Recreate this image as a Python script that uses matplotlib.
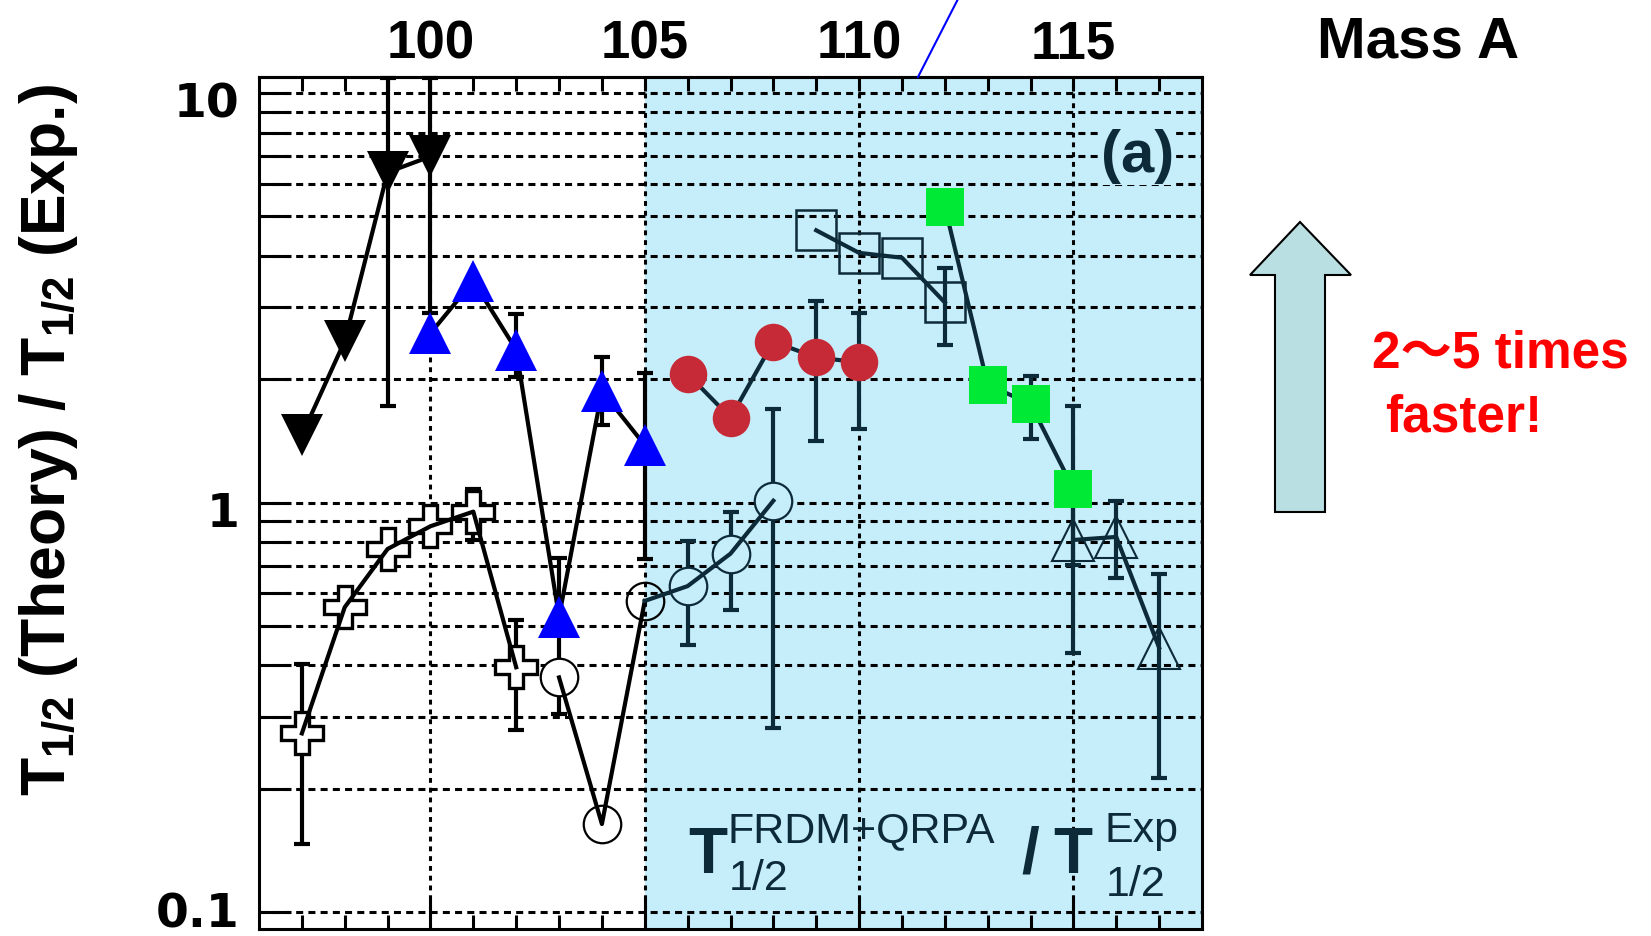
import numpy as np
import matplotlib
matplotlib.use("Agg")
import matplotlib.pyplot as plt
from matplotlib.patches import Polygon
from matplotlib.lines import Line2D
from matplotlib.ticker import FixedLocator, NullFormatter
import matplotlib.transforms as mtransforms

nan = np.nan

# ---- values: mass number A vs T1/2(theory)/T1/2(exp) ----
# black filled down-triangles
dn_x = [97, 98, 99, 100]
dn_y = [1.46, 2.48, 6.4, 7.0]
dn_lo = [nan, nan, 1.72, 2.9]
dn_hi = [nan, nan, 10.9, 10.9]

# blue filled up-triangles
up_x = [100, 101, 102, 103, 104, 105]
up_y = [2.59, 3.47, 2.36, 0.526, 1.87, 1.38]
up_lo = [nan, nan, 2.02, 0.305, 1.55, 0.726]
up_hi = [nan, nan, 2.88, 0.733, 2.26, 2.07]

# open crosses
cr_x = [97, 98, 99, 100, 101, 102]
cr_y = [0.273, 0.555, 0.77, 0.875, 0.95, 0.396]
cr_lo = [0.147, nan, nan, nan, 0.81, 0.278]
cr_hi = [0.404, nan, nan, nan, 1.08, 0.516]

# open circles
oc_x = [103, 104, 105, 106, 107, 108]
oc_y = [0.374, 0.164, 0.575, 0.625, 0.75, 1.01]
oc_lo = [nan, nan, nan, 0.449, 0.546, 0.281]
oc_hi = [nan, nan, nan, 0.805, 0.95, 1.69]

# red filled circles
rc_x = [106, 107, 108, 109, 110]
rc_y = [2.06, 1.61, 2.47, 2.26, 2.2]
rc_lo = [nan, nan, nan, 1.41, 1.51]
rc_hi = [nan, nan, nan, 3.1, 2.9]

# open squares
os_x = [109, 110, 111, 112]
os_y = [4.62, 4.07, 3.96, 3.08]
os_lo = [nan, nan, nan, 2.43]
os_hi = [nan, nan, nan, 3.74]

# green filled squares
gs_x = [112, 113, 114, 115]
gs_y = [5.28, 1.94, 1.74, 1.08]
gs_lo = [nan, nan, 1.43, 0.428]
gs_hi = [nan, nan, 2.04, 1.72]

# open up-triangles
ot_x = [115, 116, 117]
ot_y = [0.81, 0.824, 0.442]
ot_lo = [0.705, 0.655, 0.212]
ot_hi = [1.08, 1.01, 0.668]

x_major = [100, 105, 110, 115]
y_major = [0.1, 1, 10]
y_labels = ["0.1", "1", "10"]

NAVY = "#0d2a38"
CYAN = "#c6eefa"
W, H = 1651, 937

plt.rcParams["font.family"] = ["Liberation Sans", "DejaVu Sans", "Noto Sans CJK JP"]
plt.rcParams["mathtext.fontset"] = "custom"
plt.rcParams["mathtext.bf"] = "Liberation Sans:bold"
plt.rcParams["mathtext.rm"] = "Liberation Sans"


def fx(x):
    return x / W


def fy(y):
    return 1 - y / H


fig = plt.figure(figsize=(W / 100, H / 100), dpi=100)
ax = fig.add_axes([fx(259), fy(930), (1202 - 259) / W, (930 - 78) / H])
ax.set_yscale("log")
ax.set_xlim(96, 118)
ax.set_ylim(0.0909, 10.94)
ax.axvspan(105, 118, color=CYAN, zorder=0, lw=0)
ax.set_axisbelow(True)


def errs(x, y, lo, hi, color, z):
    x, y, lo, hi = map(lambda a: np.asarray(a, float), (x, y, lo, hi))
    m = ~np.isnan(lo)
    if m.any():
        ax.errorbar(x[m], y[m], yerr=[y[m] - lo[m], hi[m] - y[m]], fmt="none",
                    ecolor=color, elinewidth=3, capsize=6, capthick=3,
                    zorder=z, clip_on=False)


# black down triangles
errs(dn_x, dn_y, dn_lo, dn_hi, "black", 2)
ax.plot(dn_x, dn_y, "-", color="black", lw=3, zorder=2.5)
ax.plot(dn_x, dn_y, "v", ms=30, color="black", mew=0, zorder=3)

# open crosses
errs(cr_x, cr_y, cr_lo, cr_hi, "black", 2)
ax.plot(cr_x, cr_y, "P", ms=30, mfc="white", mec="black", mew=2.4, zorder=3)
ax.plot(cr_x, cr_y, "-", color="black", lw=3, zorder=3.5)

# blue up triangles
errs(up_x, up_y, up_lo, up_hi, "black", 2)
ax.plot(up_x, up_y, "-", color="black", lw=3, zorder=4)
ax.plot(up_x, up_y, "^", ms=30, color="#0000ff", mew=0, zorder=4.5)

# open circles (left part black, right part navy)
errs(oc_x, oc_y, oc_lo, oc_hi, NAVY, 2)
ax.plot(oc_x[:2], oc_y[:2], "o", ms=27, mfc="white", mec="black", mew=1.6, zorder=3)
ax.plot(oc_x[2:3], oc_y[2:3], "o", ms=27, mfc="none", mec="black", mew=1.6, zorder=3)
ax.plot(oc_x[3:], oc_y[3:], "o", ms=27, mfc=CYAN, mec=NAVY, mew=1.6, zorder=3)
ax.plot(oc_x[:3], oc_y[:3], "-", color="black", lw=3, zorder=3.5)
ax.plot(oc_x[2:], oc_y[2:], "-", color=NAVY, lw=3, zorder=3.5)

# red circles
errs(rc_x, rc_y, rc_lo, rc_hi, NAVY, 2)
ax.plot(rc_x, rc_y, "-", color=NAVY, lw=3, zorder=2.5)
ax.plot(rc_x, rc_y, "o", ms=27, color="#c62a36", mew=0, zorder=3)

# open squares
errs(os_x, os_y, os_lo, os_hi, NAVY, 2)
ax.plot(os_x, os_y, "s", ms=29, mfc="none", mec=NAVY, mew=1.8, zorder=3)
ax.plot(os_x, os_y, "-", color=NAVY, lw=3, zorder=3.5)

# green squares
errs(gs_x, gs_y, gs_lo, gs_hi, NAVY, 2)
ax.plot(gs_x, gs_y, "-", color=NAVY, lw=3, zorder=3.6)
ax.plot(gs_x, gs_y, "s", ms=28, color="#00ea35", mew=0, zorder=3.8)

# open triangles
errs(ot_x, ot_y, ot_lo, ot_hi, NAVY, 2)
ax.plot(ot_x, ot_y, "^", ms=30, mfc="none", mec=NAVY, mew=1.5, zorder=3)
ax.plot(ot_x, ot_y, "-", color=NAVY, lw=3, zorder=3.5)

# ---- axes, ticks, grid ----
for s in ax.spines.values():
    s.set_linewidth(2.2)

ax.xaxis.set_major_locator(FixedLocator(x_major))
ax.xaxis.set_minor_locator(FixedLocator(list(range(97, 118))))
ax.xaxis.set_major_formatter(NullFormatter())
ax.xaxis.set_minor_formatter(NullFormatter())
ax.tick_params(axis="x", which="major", direction="in", length=23, width=2.2, top=False)
ax.tick_params(axis="x", which="minor", direction="in", length=10, width=2.2, top=False)

minor_y = [0.2, 0.3, 0.4, 0.5, 0.6, 0.7, 0.8, 0.9, 2, 3, 4, 5, 6, 7, 8, 9]
ax.set_yticks(y_major, labels=y_labels, fontsize=34, fontweight="bold",
              fontfamily="DejaVu Sans")
ax.yaxis.set_minor_locator(FixedLocator(minor_y))
ax.yaxis.set_minor_formatter(NullFormatter())
ax.tick_params(axis="y", which="both", direction="in", length=23, width=2.2, pad=14)
# labels sit a little below their grid lines, except the bottom one which must fit
for lab, dy in zip(ax.get_yticklabels(), [0.03, -0.06, -0.06]):
    off = mtransforms.ScaledTranslation(0, dy, fig.dpi_scale_trans)
    lab.set_transform(lab.get_transform() + off)

ax.grid(True, axis="y", which="both", color="black", lw=2.2, linestyle=(0, (2.3, 1.7)))
ax.grid(True, axis="x", which="major", color="black", lw=2.2, linestyle=(0, (1.6, 1.6)))

top = ax.secondary_xaxis("top")
top.set_xticks(x_major, labels=[str(v) for v in x_major], fontsize=38, fontweight="bold")
top.xaxis.set_minor_locator(FixedLocator(list(range(97, 118))))
top.tick_params(which="both", direction="in", length=10, width=2.2, pad=6)
top.spines["top"].set_linewidth(2.2)

# ---- texts ----
fig.text(fx(49), fy(440), r"$\mathbf{T_{1/2}}$ (Theory) / $\mathbf{T_{1/2}}$ (Exp.)",
         rotation=90, fontsize=45, fontweight="bold", ha="center", va="center")
fig.text(fx(1418), fy(58), "Mass A", fontsize=42, fontweight="bold", ha="center", va="baseline")
fig.text(fx(1138), fy(157), "(a)", fontsize=43, fontweight="bold", color=NAVY,
         ha="center", va="center",
         bbox=dict(facecolor=CYAN, edgecolor="none", pad=1))

fig.text(fx(688), fy(873), "T", fontsize=46, fontweight="bold", color=NAVY, va="baseline")
fig.text(fx(727), fy(842), "FRDM+QRPA", fontsize=31, color=NAVY, va="baseline")
fig.text(fx(729), fy(890), "1/2", fontsize=31, color=NAVY, va="baseline")
fig.text(fx(1021), fy(873), "/", fontsize=46, fontweight="bold", color=NAVY, va="baseline")
fig.text(fx(1053), fy(873), "T", fontsize=46, fontweight="bold", color=NAVY, va="baseline")
fig.text(fx(1104), fy(842), "Exp", fontsize=31, color=NAVY, va="baseline")
fig.text(fx(1106), fy(896), "1/2", fontsize=31, color=NAVY, va="baseline")

fig.text(fx(1372), fy(368), "2～5 times", fontsize=37, fontweight="bold", color="#ff0000",
         va="baseline", family=["Liberation Sans", "Noto Sans CJK JP"])
fig.text(fx(1385), fy(431), "faster!", fontsize=37, fontweight="bold", color="#ff0000",
         va="baseline")

# big arrow
arrow_pts = [(1275, 513), (1325, 513), (1325, 276), (1351, 276), (1300, 223),
             (1250, 276), (1275, 276)]
fig.add_artist(Polygon([(fx(a), fy(b)) for a, b in arrow_pts], closed=True,
                       transform=fig.transFigure, facecolor="#b9dfe2",
                       edgecolor="black", lw=1.5))

# thin blue line at top
fig.add_artist(Line2D([fx(918), fx(958)], [fy(78), fy(0)], color="#0000ff", lw=1.5,
                      transform=fig.transFigure))

fig.savefig("out.png", dpi=100)
